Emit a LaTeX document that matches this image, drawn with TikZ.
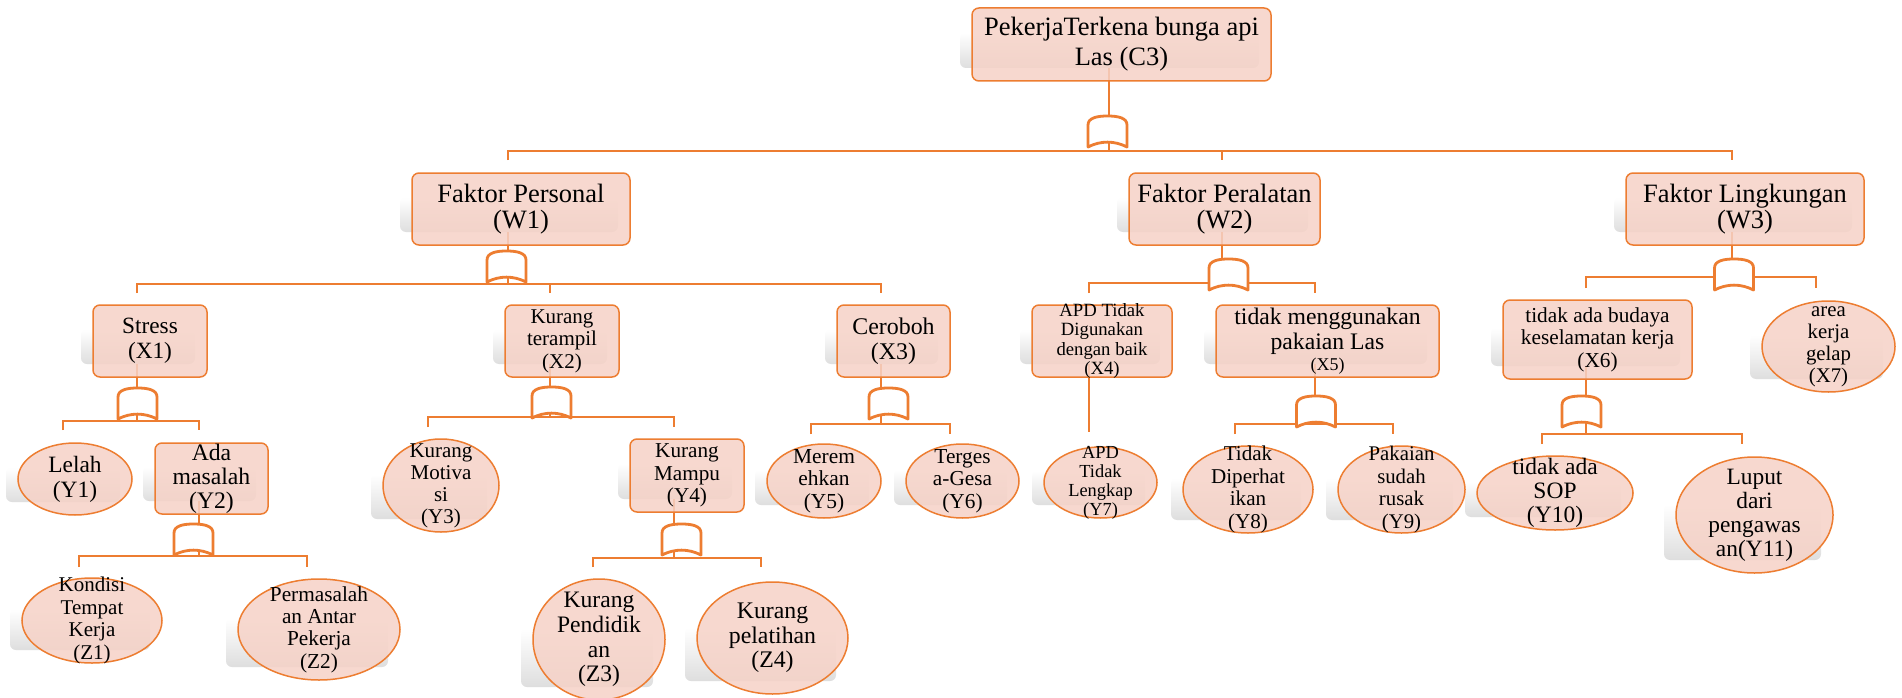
\documentclass[tikz,border=0pt]{standalone}
\usepackage{fontspec}
\setmainfont{Liberation Serif}
\usetikzlibrary{shapes.geometric,backgrounds,calc}
\definecolor{accent}{HTML}{ED7D31}
\definecolor{boxfill}{RGB}{246,210,199}
\newcommand\fs[2]{\fontsize{#1pt}{#2pt}\selectfont}

\tikzset{
  x=1pt, y=-1pt,
  shapebase/.style={draw=accent, fill=boxfill, fill opacity=.85, line width=1.5pt, inner sep=0pt},
  rbox/.style={shapebase, rectangle, rounded corners=7pt},
  ebox/.style={shapebase, ellipse},
  txt/.style={align=center, text=black, inner sep=0pt, text opacity=1},
  link/.style={draw=accent, line width=1.6pt},
  shadowbox/.style={top color=white, bottom color=black!13, rounded corners=6pt},
  gateline/.style={draw=accent, line width=2.8pt, fill=white, line join=round},
  andgate/.pic={
    \path[gateline] (-19.5,0) -- (-19.5,-22)
      .. controls (-19.5,-29) and (-11,-31) .. (0,-31)
      .. controls (11,-31) and (19.5,-29) .. (19.5,-22)
      -- (19.5,0) .. controls (7,-6.5) and (-7,-6.5) .. (-19.5,0) -- cycle;
  }
}

% #1 style, #2 name, #3 left, #4 right, #5 top, #6 bottom, #7 port x, #8 font, #9 text
\newcommand\fnode[9]{%
  \node[#1, minimum width={(#4-#3)*1pt}, minimum height={(#6-#5)*1pt},
        label={[txt,font={#8}]center:{#9}}] (#2) at ({(#3+#4)/2},{(#5+#6)/2}) {};
  \coordinate (#2-p) at (#7,{(#5+#6)/2});
  \begin{scope}[on background layer]
    \shade[shadowbox] ({#3-12},{#6-13}) rectangle ({#4-12},{#6-13-0.48*(#6-#5)});
  \end{scope}
}

% #1 parent, #2 left child, #3 right child, #4 bar y, #5 drop end y, #6 gate x, #7 gate bottom y
\newcommand\fan[7]{%
  \coordinate (#1-bar) at (0,#4);
  \coordinate (#1-end) at (0,#5);
  \begin{scope}[on background layer]
    \draw[link] ($(#1-p |- #1.south)+(0,-14)$) -- (#1-p |- #1-bar);
    \draw[link] (#2-p |- #1-end) -- (#2-p |- #1-bar) -- (#3-p |- #1-bar) -- (#3-p |- #1-end);
  \end{scope}
  \pic at (#6,#7) {andgate};
}

\begin{document}
\begin{tikzpicture}
\useasboundingbox (0,0) rectangle (1902,698);
\begin{scope}[on background layer]
  \fill[white] (0,0) rectangle (1902,698);
\end{scope}

% top event
\fnode{rbox}{C3}{972}{1271}{8}{81}{1109}{\fs{26.5}{30}}{PekerjaTerkena bunga api\\Las (C3)}

% main factors
\fnode{rbox}{W1}{412}{630}{173}{245}{508}{\fs{26.5}{26}}{Faktor Personal\\(W1)}
\fnode{rbox}{W2}{1129}{1320}{173}{245}{1222}{\fs{26.5}{26}}{Faktor Peralatan\\(W2)}
\fnode{rbox}{W3}{1626}{1864}{173}{245}{1732}{\fs{26.5}{26}}{Faktor Lingkungan\\(W3)}

% second level
\fnode{rbox}{X1}{93}{207}{305}{377}{137}{\fs{23.3}{25.5}}{Stress\\(X1)}
\fnode{rbox}{X2}{505}{619}{305}{377}{550}{\fs{21}{22.5}}{Kurang\\terampil\\(X2)}
\fnode{rbox}{X3}{837}{950}{305}{377}{881}{\fs{23.9}{25.5}}{Ceroboh\\(X3)}
\fnode{rbox}{X4}{1032}{1172}{305}{377}{1089}{\fs{18.7}{19.3}}{APD Tidak\\Digunakan\\dengan baik\\(X4)}
\fnode{rbox}{X5}{1216}{1439}{305}{377}{1315}{\fs{23.7}{25}}{tidak menggunakan\\pakaian Las\\[-4pt]{\fs{18}{19}(X5)}}
\fnode{rbox}{X6}{1503}{1692}{300}{379}{1586}{\fs{21.3}{22.5}}{tidak ada budaya\\keselamatan kerja\\(X6)}
\fnode{ebox}{X7}{1762}{1895}{301}{392}{1816}{\fs{20.8}{22}}{area\\kerja\\gelap\\(X7)}

% third level
\fnode{ebox}{Y1}{18}{132}{443}{515}{63}{\fs{23.4}{25}}{Lelah\\(Y1)}
\fnode{rbox}{Y2}{155}{268}{443}{514}{199}{\fs{23.7}{24}}{Ada\\masalah\\(Y2)}
\fnode{ebox}{Y3}{383}{499}{439}{532}{428}{\fs{21}{22}}{Kurang\\Motiva\\si\\(Y3)}
\fnode{rbox}{Y4}{630}{744}{439}{512}{674}{\fs{21.2}{22.5}}{Kurang\\Mampu\\(Y4)}
\fnode{ebox}{Y5}{767}{881}{444}{518}{811}{\fs{21.4}{22.5}}{Merem\\ehkan\\(Y5)}
\fnode{ebox}{Y6}{906}{1019}{444}{518}{950}{\fs{21.3}{22.5}}{Terges\\a-Gesa\\(Y6)}
\fnode{ebox}{Y7}{1044}{1157}{447}{518}{1089}{\fs{18.4}{19}}{APD\\Tidak\\Lengkap\\(Y7)}
\fnode{ebox}{Y8}{1183}{1313}{446}{533}{1235}{\fs{21.1}{22.5}}{Tidak\\Diperhat\\ikan\\(Y8)}
\fnode{ebox}{Y9}{1338}{1465}{446}{533}{1393}{\fs{20.8}{22.5}}{Pakaian\\sudah\\rusak\\(Y9)}
\fnode{ebox}{Y10}{1477}{1633}{456}{530}{1542}{\fs{23.5}{24}}{tidak ada\\SOP\\(Y10)}
\fnode{ebox}{Y11}{1676}{1833}{457}{573}{1742}{\fs{23.4}{24}}{Luput\\dari\\pengawas\\an(Y11)}

% fourth level
\fnode{ebox}{Z1}{22}{162}{578}{663}{79}{\fs{21}{22.5}}{Kondisi\\Tempat\\Kerja\\(Z1)}
\fnode{ebox}{Z2}{238}{400}{579}{680}{307}{\fs{21.3}{22.3}}{Permasalah\\an Antar\\Pekerja\\(Z2)}
\fnode{ebox}{Z3}{533}{665}{579}{700}{593}{\fs{23.6}{24.7}}{Kurang\\Pendidik\\an\\(Z3)}
\fnode{ebox}{Z4}{697}{848}{582}{694}{761}{\fs{23.8}{24.5}}{Kurang\\pelatihan\\(Z4)}

% gates with their fan-out bars
\fan{C3}{W1}{W3}{151}{160}{1107.5}{147}
\begin{scope}[on background layer]
  \draw[link] (W2-p |- C3-bar) -- (W2-p |- C3-end);
\end{scope}
\fan{W1}{X1}{X3}{284}{293}{506.5}{282}
\begin{scope}[on background layer]
  \draw[link] (X2-p |- W1-bar) -- (X2-p |- W1-end);
\end{scope}
\fan{W2}{X4}{X5}{283}{293}{1228.5}{290}
\fan{W3}{X6}{X7}{277}{288}{1734}{290}
\fan{X1}{Y1}{Y2}{421}{430}{137.5}{419}
\fan{X2}{Y3}{Y4}{417}{427}{551.5}{418}
\fan{X3}{Y5}{Y6}{424}{434}{888.5}{419}
\fan{X5}{Y8}{Y9}{424}{434}{1316}{427}
\fan{X6}{Y10}{Y11}{434}{444}{1581.5}{427}
\fan{Y2}{Z1}{Z2}{556}{567}{193.5}{555}
\fan{Y4}{Z3}{Z4}{558}{567}{681.5}{555}

% single cause under X4
\begin{scope}[on background layer]
  \draw[link] ($(X4-p |- X4.south)+(0,-14)$) -- ($(Y7-p |- Y7.north)+(0,-14)$);
\end{scope}
\end{tikzpicture}
\end{document}
